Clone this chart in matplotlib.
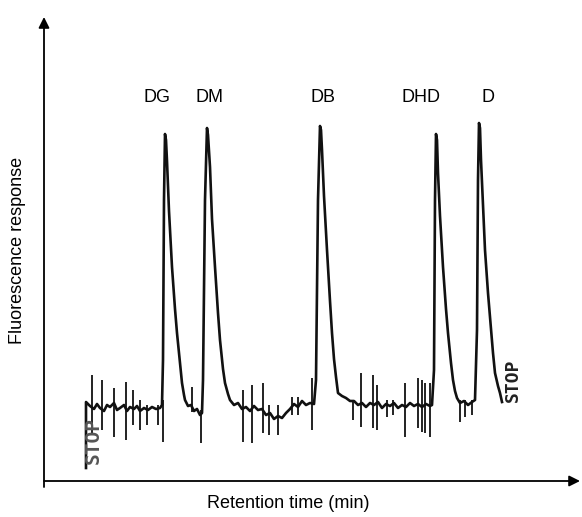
import matplotlib.pyplot as plt

plt.rcParams['font.family'] = ['Liberation Sans', 'DejaVu Sans']

# chromatogram trace (retention time, response), arbitrary units
trace_t = [42, 42, 46, 50, 53, 56, 60, 63, 66, 70, 73, 76, 80, 83, 86, 90, 93, 96,
           100, 104, 108, 112, 116, 118, 119, 120, 121, 122, 123, 125, 128, 131,
           133, 136, 138, 140, 141, 144, 147, 150, 153, 156, 158,
           159, 161, 163, 164, 166, 168, 171, 174, 176, 179, 181, 184, 186,
           190, 194, 198, 202, 206, 210, 214, 218, 222, 226, 230, 234, 238, 242,
           246, 250, 254, 258, 262, 266, 270,
           272, 274, 276, 277, 278, 280, 283, 286, 288, 290, 292, 294,
           298, 302, 306, 310, 314, 318, 322, 326, 330, 334, 338, 342, 346, 350,
           354, 358, 362, 366, 370, 374, 378, 382, 386, 388,
           390, 391, 392, 393, 394, 396, 399, 402, 404, 407, 409, 411, 413,
           416, 420, 424, 428, 431,
           433, 434, 435, 436, 437, 439, 441, 444, 446, 449, 451, 454, 456, 458]
trace_r = [13, 79, 75, 72, 77, 73, 70, 76, 74, 78, 71, 73, 76, 70, 74, 72, 75, 70,
           73, 71, 74, 72, 73, 76, 121, 281, 347, 341, 320, 270, 214, 172,
           148, 118, 98, 86, 81, 75, 76, 70, 72, 66, 68,
           101, 281, 353, 346, 314, 262, 214, 168, 141, 112, 98, 87, 81,
           76, 78, 72, 74, 70, 75, 71, 72, 66, 68, 62, 65, 63, 68,
           72, 77, 74, 80, 76, 78, 77,
           101, 281, 355, 351, 331, 285, 231, 180, 148, 122, 104, 88,
           85, 83, 80, 80, 76, 78, 74, 78, 76, 79, 73, 77, 75, 78,
           73, 76, 74, 78, 75, 77, 74, 77, 75, 76,
           111, 281, 347, 341, 308, 265, 214, 172, 148, 118, 101, 90, 83,
           78, 80, 76, 79, 81,
           151, 301, 358, 353, 321, 275, 231, 188, 164, 128, 108, 95, 88, 79]

# baseline noise spikes: time, top, bottom
spike_t = [48, 58, 70, 82, 89, 96, 103, 114, 119, 148, 157, 199, 208, 219, 225,
           234, 248, 254, 268, 309, 317, 329, 333, 343, 349, 361, 374, 378, 381,
           386, 416, 421, 428]
spike_top = [106, 101, 93, 99, 91, 81, 76, 76, 81, 94, 71, 91, 96, 98, 76,
             76, 84, 84, 103, 81, 108, 106, 96, 81, 81, 98, 103, 101, 98,
             98, 81, 81, 81]
spike_bot = [48, 51, 44, 41, 56, 51, 56, 56, 39, 69, 38, 39, 38, 48, 46,
             46, 66, 66, 51, 61, 54, 53, 51, 64, 66, 44, 53, 49, 48,
             44, 59, 64, 66]

peak_names = ['DG', 'DM', 'DB', 'DHD', 'D']
label_t = [113, 166, 279, 377, 444]
label_r = 383

fig = plt.figure(figsize=(5.82, 5.17), dpi=100)
ax = fig.add_axes([44 / 582, 36 / 517, 536 / 582, 464 / 517])
ax.set_xlim(0, 536)
ax.set_ylim(0, 464)
for s in ax.spines.values():
    s.set_visible(False)
ax.set_xticks([])
ax.set_yticks([])

ax.plot(trace_t, trace_r, color='#111111', lw=1.9, solid_joinstyle='round')
ax.vlines(spike_t, spike_bot, spike_top, color='#111111', lw=1.3)

for name, t in zip(peak_names, label_t):
    ax.text(t, label_r, name, ha='center', va='center', fontsize=13)

# STOP marks printed by the recorder
ax.text(49, 40, 'STOP', rotation=90, ha='center', va='center', fontsize=14,
        color='#555555', family='DejaVu Sans Mono', weight='bold')
ax.text(469, 101, 'STOP', rotation=90, ha='center', va='center', fontsize=13,
        color='#222222', family='DejaVu Sans Mono', weight='bold')

# axes drawn as arrows
ax.annotate('', xy=(0, 1), xytext=(0, -0.013), xycoords='axes fraction',
            arrowprops=dict(arrowstyle='-|>', color='black', lw=1.3,
                            mutation_scale=16, shrinkA=0, shrinkB=0))
ax.annotate('', xy=(1.0, 0), xytext=(0, 0), xycoords='axes fraction',
            arrowprops=dict(arrowstyle='-|>', color='black', lw=1.3,
                            mutation_scale=16, shrinkA=0, shrinkB=0))

fig.text(18 / 582, 1 - 250 / 517, 'Fluorescence response', rotation=90,
         ha='center', va='center', fontsize=13)
fig.text(288 / 582, 1 - 503 / 517, 'Retention time (min)', ha='center',
         va='center', fontsize=13)

fig.savefig('out.png', dpi=100)
